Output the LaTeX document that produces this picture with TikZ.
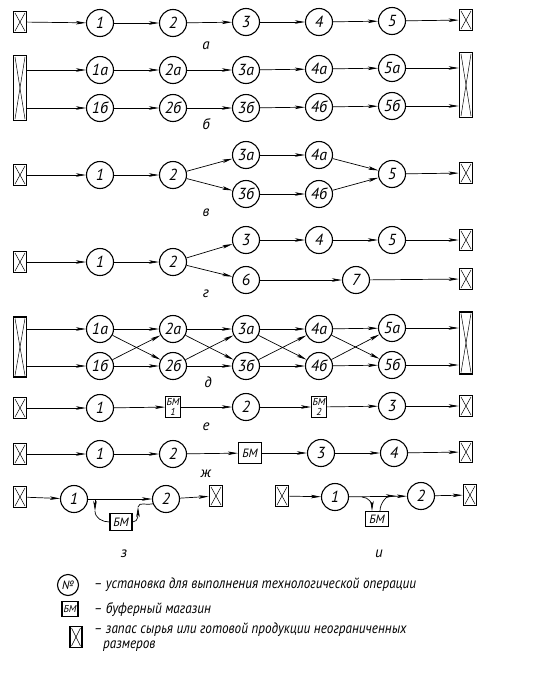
\documentclass[tikz,border=0pt]{standalone}
\usepackage{fontspec}
\setmainfont{PT Sans}
\newfontfamily\gostfont{PT Sans}[FakeStretch=0.88]
\usetikzlibrary{arrows.meta}

\begin{document}
\begin{tikzpicture}[x=1pt, y=-1pt,
  font=\itshape,
  op/.style={draw, circle, line width=1.1pt, minimum size=27pt, inner sep=0pt, font=\itshape\fontsize{16}{16}\selectfont},
  stock/.style={draw, line width=1.6pt, minimum width=13pt, minimum height=21pt, inner sep=0pt,
    path picture={
      \draw[line width=0.5pt] ([shift={(1.5pt,-1.5pt)}]path picture bounding box.north west) -- ([shift={(-1.5pt,1.5pt)}]path picture bounding box.south east);
      \draw[line width=0.5pt] ([shift={(-1.5pt,-1.5pt)}]path picture bounding box.north east) -- ([shift={(1.5pt,1.5pt)}]path picture bounding box.south west);}},
  tallstock/.style={stock, minimum height=65pt},
  bm/.style={draw, line width=1.1pt, inner sep=1pt, align=center, font=\itshape\fontsize{9}{9}\selectfont},
  arrow/.style={-{Stealth[length=10pt, width=3.5pt, inset=2.5pt]}, line width=0.7pt},
  lbl/.style={font=\itshape\fontsize{15}{15}\selectfont},
  legend/.style={anchor=west, inner sep=1pt, font=\gostfont\itshape\fontsize{15}{15}\selectfont}
]
\useasboundingbox (0,0) rectangle (550,675);
% row a
\node[stock] (as) at (20,22) {};
\node[op] (a1) at (100,23) {1};
\node[op] (a2) at (173,23) {2};
\node[op] (a3) at (246,22) {3};
\node[op] (a4) at (319,22) {4};
\node[op] (a5) at (392,21) {5};
\node[stock] (ae) at (466,20) {};
\node[lbl] (la) at (206,46) {а};
\draw[arrow] (as) -- (a1);
\draw[arrow] (a1) -- (a2);
\draw[arrow] (a2) -- (a3);
\draw[arrow] (a3) -- (a4);
\draw[arrow] (a4) -- (a5);
\draw[arrow] (a5) -- (ae);
% row b: two parallel lines
\node[tallstock] (bs) at (20,88) {};
\node[op] (ba1) at (100,70) {1а};
\node[op] (ba2) at (173,70) {2а};
\node[op] (ba3) at (246,70) {3а};
\node[op] (ba4) at (319,69) {4а};
\node[op] (ba5) at (392,68) {5а};
\node[op] (bb1) at (100,108) {1б};
\node[op] (bb2) at (173,108) {2б};
\node[op] (bb3) at (246,108) {3б};
\node[op] (bb4) at (319,107) {4б};
\node[op] (bb5) at (392,106) {5б};
\node[tallstock] (be) at (466,85) {};
\node[lbl] (lb) at (206,124) {б};
\draw[arrow] (bs.east |- ba1) -- (ba1);
\draw[arrow] (ba1) -- (ba2);
\draw[arrow] (ba2) -- (ba3);
\draw[arrow] (ba3) -- (ba4);
\draw[arrow] (ba4) -- (ba5);
\draw[arrow] (ba5) -- (be.west |- ba5);
\draw[arrow] (bs.east |- bb1) -- (bb1);
\draw[arrow] (bb1) -- (bb2);
\draw[arrow] (bb2) -- (bb3);
\draw[arrow] (bb3) -- (bb4);
\draw[arrow] (bb4) -- (bb5);
\draw[arrow] (bb5) -- (be.west |- bb5);
% row v: split and join
\node[stock] (vs) at (20,175) {};
\node[op] (v1) at (100,175) {1};
\node[op] (v2) at (173,175) {2};
\node[op] (v3a) at (246,155) {3а};
\node[op] (v3b) at (246,194) {3б};
\node[op] (v4a) at (319,155) {4а};
\node[op] (v4b) at (319,194) {4б};
\node[op] (v5) at (392,174) {5};
\node[stock] (ve) at (466,173) {};
\node[lbl] (lv) at (206,213) {в};
\draw[arrow] (vs) -- (v1);
\draw[arrow] (v1) -- (v2);
\draw[arrow] (v2) -- (v3a);
\draw[arrow] (v2) -- (v3b);
\draw[arrow] (v3a) -- (v4a);
\draw[arrow] (v3b) -- (v4b);
\draw[arrow] (v4a) -- (v5);
\draw[arrow] (v4b) -- (v5);
\draw[arrow] (v5) -- (ve);
% row g: split into two outputs
\node[stock] (gs) at (20,262) {};
\node[op] (g1) at (100,262) {1};
\node[op] (g2) at (173,262) {2};
\node[op] (g3) at (246,240) {3};
\node[op] (g4) at (319,240) {4};
\node[op] (g5) at (392,240) {5};
\node[stock] (ge1) at (466,240) {};
\node[op] (g6) at (246,280) {6};
\node[op] (g7) at (356,280) {7};
\node[stock] (ge2) at (466,279) {};
\node[lbl] (lg) at (206,294) {г};
\draw[arrow] (gs) -- (g1);
\draw[arrow] (g1) -- (g2);
\draw[arrow] (g2) -- (g3);
\draw[arrow] (g2) -- (g6);
\draw[arrow] (g3) -- (g4);
\draw[arrow] (g4) -- (g5);
\draw[arrow] (g5) -- (ge1);
\draw[arrow] (g6) -- (g7);
\draw[arrow] (g7) -- (ge2);
% row d: cross links
\node[tallstock, minimum height=60pt] (ds) at (20,347) {};
\node[op] (da1) at (100,329) {1а};
\node[op] (da2) at (173,329) {2а};
\node[op] (da3) at (246,329) {3а};
\node[op] (da4) at (319,329) {4а};
\node[op] (da5) at (392,328) {5а};
\node[op] (db1) at (100,366) {1б};
\node[op] (db2) at (173,366) {2б};
\node[op] (db3) at (246,366) {3б};
\node[op] (db4) at (319,366) {4б};
\node[op] (db5) at (392,365) {5б};
\node[tallstock, minimum height=62pt] (de) at (466,343) {};
\node[lbl] (ld) at (208,382) {д};
\draw[arrow] (ds.east |- da1) -- (da1);
\draw[arrow] (ds.east |- db1) -- (db1);
\draw[arrow] (da1) -- (da2);
\draw[arrow] (da2) -- (da3);
\draw[arrow] (da3) -- (da4);
\draw[arrow] (da4) -- (da5);
\draw[arrow] (db1) -- (db2);
\draw[arrow] (db2) -- (db3);
\draw[arrow] (db3) -- (db4);
\draw[arrow] (db4) -- (db5);
\draw[arrow] (da1) -- (db2);
\draw[arrow] (db1) -- (da2);
\draw[arrow] (da2) -- (db3);
\draw[arrow] (db2) -- (da3);
\draw[arrow] (da3) -- (db4);
\draw[arrow] (db3) -- (da4);
\draw[arrow] (da4) -- (db5);
\draw[arrow] (db4) -- (da5);
\draw[arrow] (da5) -- (de.west |- da5);
\draw[arrow] (db5) -- (de.west |- db5);
% row e: buffer after each step
\node[stock] (es) at (20,408) {};
\node[op] (e1) at (100,408) {1};
\node[bm, minimum width=14pt, minimum height=21pt, font=\itshape\fontsize{10}{10}\selectfont] (ebm1) at (173,407) {БМ\\1};
\node[op] (e2) at (246,407) {2};
\node[bm, minimum width=14pt, minimum height=21pt, font=\itshape\fontsize{10}{10}\selectfont] (ebm2) at (319,407) {БМ\\2};
\node[op] (e3) at (392,406) {3};
\node[stock] (ee) at (466,406) {};
\node[lbl] (le) at (206,427) {е};
\draw[arrow] (es) -- (e1);
\draw[arrow] (e1) -- (ebm1);
\draw[arrow] (ebm1) -- (e2);
\draw[arrow] (e2) -- (ebm2);
\draw[arrow] (ebm2) -- (e3);
\draw[arrow] (e3) -- (ee);
% row zh: one buffer in the middle
\node[stock] (zhs) at (20,454) {};
\node[op] (zh1) at (100,454) {1};
\node[op] (zh2) at (173,454) {2};
\node[bm, minimum width=23pt, minimum height=21pt, font=\itshape\fontsize{12}{12}\selectfont] (zhbm) at (250,453) {БМ};
\node[op] (zh3) at (321,453) {3};
\node[op] (zh4) at (394,453) {4};
\node[stock] (zhe) at (466,452) {};
\node[lbl] (lzh) at (206,474) {ж};
\draw[arrow] (zhs) -- (zh1);
\draw[arrow] (zh1) -- (zh2);
\draw[arrow] (zh2) -- (zhbm);
\draw[arrow] (zhbm) -- (zh3);
\draw[arrow] (zh3) -- (zh4);
\draw[arrow] (zh4) -- (zhe);
% row z: buffer on a bypass
\node[stock] (zs) at (20,497) {};
\node[op] (z1) at (74,499) {1};
\node[op] (z2) at (166,499) {2};
\node[stock] (ze) at (216,496) {};
\node[bm, minimum width=22pt, minimum height=17pt, font=\itshape\fontsize{12}{12}\selectfont] (zbm) at (121,522) {БМ};
\node[lbl] (lz) at (124,554) {з};
\coordinate (zt) at (95,499);
\coordinate (zd) at (95,511);
\coordinate (zu) at (138,507);
\draw[arrow] (zs) -- (z1);
\draw[arrow] (z1) -- (z2);
\draw[arrow] (z2) -- (ze);
\draw[arrow] (zt) -- (zd);
\draw[line width=0.7pt] (zd) to[out=-90, in=180] (zbm.west);
\draw[arrow] (zbm.east) to[out=0, in=-90] (zu);
\draw[line width=0.7pt] (zu) to[out=80, in=200] (z2);
% row i: buffer hanging on the line
\node[stock] (is) at (282,496) {};
\node[op] (i1) at (335,497) {1};
\node[op] (i2) at (421,496) {2};
\node[stock] (ie) at (470,495) {};
\node[bm, minimum width=23pt, minimum height=15pt, font=\itshape\fontsize{12}{12}\selectfont] (ibm) at (377,519) {БМ};
\node[lbl] (li) at (379,554) {и};
\coordinate (ia) at (362,497);
\coordinate (ib) at (396,496);
\draw[arrow] (is) -- (i1);
\draw[arrow] (i1) -- (i2);
\draw[arrow] (i2) -- (ie);
\draw[arrow] (ia) to[out=0, in=90] ([xshift=-5pt]ibm.north);
\draw[arrow] ([xshift=3pt]ibm.north) to[out=90, in=180] (ib);
% legend
\node[op, minimum size=21pt, font=\itshape\fontsize{12}{12}\selectfont] (lop) at (68,585) {№};
\node[legend] (lopt) at (93,585) {– установка для выполнения технологической операции};
\node[bm, minimum width=16pt, minimum height=15pt, font=\itshape\fontsize{10}{10}\selectfont] (lbm) at (70,609) {БМ};
\node[legend] (lbmt) at (93,610) {– буферный магазин};
\node[stock, minimum width=12pt, minimum height=21pt] (lst) at (76,637) {};
\node[legend] (lstt) at (93,630) {– запас сырья или готовой продукции неограниченных};
\node[legend] (lstt2) at (102,646) {размеров};
\end{tikzpicture}
\end{document}
